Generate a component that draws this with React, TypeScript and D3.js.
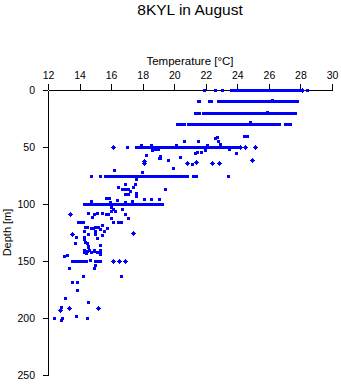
import React, { useEffect, useRef } from "react";
import * as d3 from "d3";

const title = "8KYL in August";
const xTitle = "Temperature [°C]";
const yTitle = "Depth [m]";
const xTicks = [12, 14, 16, 18, 20, 22, 24, 26, 28, 30];
const yTicks = [0, 50, 100, 150, 200, 250];

// dense rows of readings at standard depths (temperature values)
const row0 = [21.9, 22.6, 23.0, 23.05, 23.6, 23.75, 23.9, 24.0, 24.15, 24.3, 24.45, 24.6, 24.7, 24.85, 25.0, 25.15, 25.3, 25.4, 25.55, 25.7, 25.85, 26.0, 26.1, 26.25, 26.4, 26.55, 26.7, 26.85, 27.0, 27.1, 27.25, 27.4, 27.55, 27.65, 27.8, 27.95, 28.4];
const row10 = [21.5, 21.6, 22.2, 22.35, 22.75, 22.9, 23.05, 23.2, 23.35, 23.5, 23.65, 23.8, 23.95, 24.1, 24.25, 24.4, 24.55, 24.7, 24.85, 25.0, 25.15, 25.3, 25.45, 25.6, 25.75, 25.9, 26.05, 26.2, 26.35, 26.5, 26.65, 26.8, 26.95, 27.1, 27.25, 27.4, 27.55, 27.7, 27.75];
const row20 = [21.3, 21.45, 21.55, 21.8, 21.95, 22.1, 22.25, 22.4, 22.55, 22.7, 22.85, 23.0, 23.15, 23.3, 23.45, 23.6, 23.75, 23.9, 24.05, 24.2, 24.35, 24.5, 24.65, 24.8, 24.95, 25.1, 25.25, 25.4, 25.55, 25.7, 25.85, 26.0, 26.15, 26.3, 26.45, 26.6, 26.75, 26.9, 27.05, 27.2, 27.35, 27.5, 27.65];
const row30 = [20.2, 20.3, 20.45, 20.6, 20.85, 21.0, 21.15, 21.3, 21.5, 21.65, 21.8, 21.95, 22.1, 22.25, 22.4, 22.55, 22.7, 22.85, 23.0, 23.15, 23.3, 23.45, 23.6, 23.75, 23.9, 24.05, 24.2, 24.35, 24.5, 24.65, 24.8, 24.95, 25.1, 25.25, 25.4, 25.55, 25.7, 25.85, 26.0, 26.15, 26.25, 26.45, 26.65, 27.0, 27.15, 27.35];
const row50 = [17.0, 17.6, 17.75, 17.9, 18.05, 18.2, 18.35, 18.5, 18.65, 18.8, 18.95, 19.1, 19.25, 19.4, 19.55, 19.75, 19.9, 20.05, 20.2, 20.35, 20.5, 20.65, 20.8, 20.95, 21.1, 21.25, 21.4, 21.55, 21.7, 21.85, 22.0, 22.15, 22.3, 22.45, 22.6, 22.75, 22.9, 23.05, 23.2, 23.35, 23.5, 23.65, 23.8, 23.95, 24.0];
const row75 = [14.7, 15.3, 15.6, 15.75, 15.9, 16.05, 16.2, 16.35, 16.5, 16.65, 16.8, 16.95, 17.1, 17.25, 17.4, 17.55, 17.7, 17.85, 18.0, 18.15, 18.3, 18.45, 18.6, 18.75, 18.9, 19.05, 19.2, 19.35, 19.5, 19.65, 19.8, 19.95, 20.1, 20.25, 20.4, 20.55, 20.7, 20.8, 21.2, 21.4, 23.4];
const row100 = [14.3, 14.45, 14.6, 14.75, 14.9, 15.05, 15.2, 15.35, 15.5, 15.65, 15.8, 15.95, 16.1, 16.25, 16.4, 16.55, 16.7, 16.85, 17.0, 17.15, 17.3, 17.45, 17.6, 17.75, 17.9, 18.05, 18.2, 18.35, 18.5, 18.65, 18.8, 18.95, 19.1, 19.2];
const row150 = [13.5, 13.65, 13.8, 13.95, 14.1, 14.25, 14.4, 15.0, 15.15, 15.3];

const rowDepths = [0, 10, 20, 30, 50, 75, 100, 150];
const rows = [row0, row10, row20, row30, row50, row75, row100, row150];

// individual readings [temperature, depth]
const scatter: [number, number][] = [
  [26.2, 9], [25.9, 19], [24.8, 28], [24.4, 40.5], [24.6, 40.5], [22.7, 41], [22.6, 42.5], [22.8, 45], [22.9, 47],
  [20.6, 45], [21.5, 45], [20.1, 48], [22.1, 48], [17.9, 48], [18.5, 48.5],
  [18.6, 53], [18.8, 52], [19.0, 52], [21.3, 55.6], [21.45, 54.7], [21.7, 54.7], [21.95, 52.6], [23.5, 52], [23.9, 55],
  [18.2, 57], [19.1, 57.5], [19.1, 59.5], [20.35, 59], [19.6, 61.4], [19.05, 60], [21.15, 65], [19.9, 68.7], [16.2, 70], [17.95, 71.6],
  [17.6, 78], [16.9, 82.5], [17.5, 82.5], [16.45, 85], [17.4, 85], [16.7, 87], [16.85, 87], [17.05, 87], [19.4, 87],
  [17.2, 89], [17.6, 90.6], [16.9, 91.5], [17.05, 91.5], [17.6, 93], [15.7, 94.7], [15.85, 95], [18.1, 95.6], [18.5, 95.6],
  [19.05, 95.6], [14.7, 97], [16.35, 96.5], [17.3, 97], [15.9, 98.5], [16.9, 98.5],
  [16.0, 103], [16.1, 104.4], [16.7, 104.4], [16.0, 106], [16.25, 106], [14.55, 108], [15.1, 108], [15.4, 108],
  [14.9, 109], [15.65, 109], [15.8, 109], [16.9, 109], [14.8, 111.7], [17.1, 112], [16.0, 112.6], [13.9, 115.5],
  [14.05, 115.5], [14.2, 115.5], [16.1, 115.5], [16.45, 115.5], [16.6, 115.5], [15.4, 118], [14.35, 120], [14.5, 120.5],
  [14.7, 121], [14.85, 121], [15.0, 120], [15.2, 120.5], [15.75, 121], [15.3, 122], [14.3, 124], [15.0, 124], [15.55, 124],
  [14.55, 126], [15.0, 126], [15.45, 127], [13.75, 129], [14.3, 129], [15.1, 130], [14.25, 131], [13.7, 134],
  [14.35, 133], [14.45, 134], [15.3, 136], [14.55, 137], [14.55, 138], [14.25, 140], [14.6, 140], [14.9, 140], [15.3, 140],
  [14.45, 141.5], [13.0, 145.5], [13.2, 145], [14.25, 142], [14.4, 143], [14.7, 142], [14.9, 141], [15.1, 142], [15.3, 141],
  [15.3, 144], [14.65, 149], [15.0, 153.5], [13.3, 156.4], [14.9, 156.4], [14.2, 163.5], [16.65, 163.5], [13.55, 168],
  [13.85, 168], [13.85, 175.5], [13.1, 182.5], [14.55, 186], [12.85, 190], [13.8, 198.5], [12.4, 200], [12.9, 199.6],
  [14.5, 200], [12.85, 202],
];

// readings drawn with the cross marker
const crosses: [number, number][] = [
  [28.1, 0], [16.1, 50], [24.2, 50], [24.5, 50], [25.1, 50], [18.1, 62], [18.1, 64], [20.8, 64], [21.4, 63.4],
  [22.4, 64], [22.85, 64], [24.9, 61.4], [13.4, 109], [17.4, 125.5], [13.55, 126], [16.1, 150], [16.5, 150], [16.9, 150],
  [13.3, 191], [15.2, 191], [12.75, 193],
];

const W = 341;
const H = 384;
const FONT = "'Liberation Sans', Arial, Helvetica, sans-serif";
const BLUE = "#0000ff";

export default function App() {
  const gx = useRef<SVGGElement>(null);
  const gy = useRef<SVGGElement>(null);

  const x = d3.scaleLinear().domain([12, 30]).range([48, 332]);
  const y = d3.scaleLinear().domain([0, 250]).range([90, 375]);

  useEffect(() => {
    const ax = d3.axisTop(x).tickValues(xTicks).tickSize(6).tickSizeOuter(0).tickPadding(5).tickFormat(d3.format("d"));
    const ay = d3.axisLeft(y).tickValues(yTicks).tickSize(5).tickSizeOuter(0).tickPadding(8).tickFormat(d3.format("d"));
    const sx = d3.select(gx.current!).call(ax as any);
    const sy = d3.select(gy.current!).call(ay as any);
    [sx, sy].forEach((s) => {
      s.attr("font-family", FONT).attr("font-size", 10.5);
      s.selectAll("path,line").attr("stroke", "#000").attr("shape-rendering", "crispEdges");
      s.selectAll("text").attr("fill", "#000");
    });
  }, []);

  const pts: [number, number][] = [];
  rows.forEach((r, i) => r.forEach((t) => pts.push([t, rowDepths[i]])));
  scatter.forEach((p) => pts.push(p));

  return (
    <svg width={W} height={H} style={{ position: "absolute", left: 0, top: 0, background: "#fff" }}>
      <rect width={W} height={H} fill="#fff" />
      <text x={190} y={15} textAnchor="middle" fontFamily={FONT} fontSize={15.5}>{title}</text>
      <text x={190} y={65} textAnchor="middle" fontFamily={FONT} fontSize={11.5}>{xTitle}</text>
      <text transform={`translate(11,${(90 + 375) / 2}) rotate(-90)`} textAnchor="middle" fontFamily={FONT} fontSize={11}>{yTitle}</text>
      <g ref={gx} transform="translate(0,90)" />
      <g ref={gy} transform="translate(48,0)" />
      <g fill={BLUE} shapeRendering="crispEdges">
        {pts.map(([t, d], i) => (
          <rect key={i} x={Math.round(x(t)) - 1} y={Math.round(y(d)) - 1} width={3} height={3} />
        ))}
        {crosses.map(([t, d], i) => {
          const cx = Math.round(x(t));
          const cy = Math.round(y(d));
          return (
            <g key={"c" + i}>
              <rect x={cx - 1} y={cy - 1} width={3} height={3} />
              <rect x={cx - 2} y={cy} width={5} height={1} />
              <rect x={cx} y={cy - 2} width={1} height={5} />
            </g>
          );
        })}
      </g>
    </svg>
  );
}
